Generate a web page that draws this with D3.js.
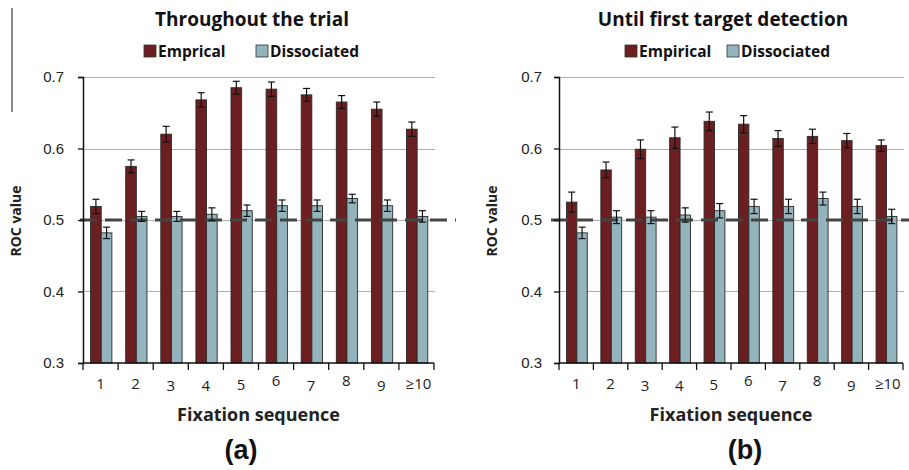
<!DOCTYPE html>
<html>
<head>
<meta charset="utf-8">
<style>
  body { margin: 0; background: #fff; }
  svg { display: block; font-family: "Open Sans", "Lato", sans-serif; }
  .grid line { stroke: #b0b0b0; stroke-width: 1; }
  .ylab text { font-size: 15px; fill: #222; }
  .xlab text { font-size: 15px; fill: #222; }
</style>
</head>
<body>
<svg width="909" height="470"></svg>
<script src="https://d3js.org/d3.v7.min.js"></script>
<script>
// categories on the x axis
let categories = ["1", "2", "3", "4", "5", "6", "7", "8", "9", "\u226510"]
let yTicks = [0.3, 0.4, 0.5, 0.6, 0.7]

// (a) throughout the trial
let empA = [0.519, 0.575, 0.620, 0.668, 0.685, 0.683, 0.675, 0.665, 0.655, 0.627]
let empAErr = [0.010, 0.009, 0.011, 0.010, 0.009, 0.010, 0.009, 0.009, 0.010, 0.010]
let dissA = [0.482, 0.505, 0.505, 0.508, 0.513, 0.520, 0.520, 0.530, 0.520, 0.505]
let dissAErr = [0.008, 0.007, 0.007, 0.009, 0.008, 0.008, 0.008, 0.006, 0.008, 0.008]

// (b) until first target detection
let empB = [0.525, 0.570, 0.599, 0.615, 0.638, 0.634, 0.614, 0.617, 0.611, 0.604]
let empBErr = [0.014, 0.011, 0.013, 0.015, 0.013, 0.012, 0.011, 0.010, 0.010, 0.008]
let dissB = [0.482, 0.504, 0.504, 0.507, 0.513, 0.519, 0.519, 0.530, 0.519, 0.505]
let dissBErr = [0.008, 0.009, 0.009, 0.010, 0.010, 0.010, 0.010, 0.009, 0.010, 0.010]

let colEmp = "#6b1f20"
let colDiss = "#93b4bc"

let svg = d3.select("svg")

// stray frame line at the far left
svg.append("line").attr("x1", 12).attr("x2", 12).attr("y1", 8).attr("y2", 112)
    .attr("stroke", "#111").attr("stroke-width", 1)

function drawPanel(p) {
    let g = svg.append("g")

    let x = d3.scaleBand().domain(categories).range([p.left, p.right]).padding(0)
    let sub = d3.scaleBand().domain(["emp", "diss"]).range([0, x.bandwidth()])
        .paddingInner(0).paddingOuter(0.65).align(0.55)
    let y = d3.scaleLinear().domain([0.3, 0.7]).range([363, 77])

    // gridlines
    g.append("g").attr("class", "grid")
        .selectAll("line").data(yTicks.slice(1)).join("line")
        .attr("x1", p.left).attr("x2", p.right + 1)
        .attr("y1", d => Math.round(y(d)) + 0.5).attr("y2", d => Math.round(y(d)) + 0.5)

    let rows = categories.map((c, i) => ({
        c: c, emp: p.emp[i], empErr: p.empErr[i], diss: p.diss[i], dissErr: p.dissErr[i]
    }))

    let series = [
        {key: "emp", color: colEmp},
        {key: "diss", color: colDiss}
    ]

    series.forEach(s => {
        g.append("g").selectAll("rect").data(rows).join("rect")
            .attr("x", d => x(d.c) + sub(s.key))
            .attr("width", sub.bandwidth())
            .attr("y", d => y(d[s.key]))
            .attr("height", d => y(0.3) - y(d[s.key]))
            .attr("fill", s.color)
            .attr("stroke", "#2a2a2a")
            .attr("stroke-width", 0.9)
    })

    // reference line at chance level
    g.append("line")
        .attr("x1", p.dashFrom).attr("x2", p.dashTo)
        .attr("y1", y(0.5)).attr("y2", y(0.5))
        .attr("stroke", "#444").attr("stroke-width", 3)
        .attr("stroke-dasharray", "17,8")

    // error bars
    series.forEach(s => {
        let eb = g.append("g").selectAll("g").data(rows).join("g")
            .attr("transform", d => `translate(${x(d.c) + sub(s.key) + sub.bandwidth() / 2},0)`)
            .attr("stroke", "#111").attr("stroke-width", 1.2)
        eb.append("line")
            .attr("y1", d => y(d[s.key] - d[s.key + "Err"]))
            .attr("y2", d => y(d[s.key] + d[s.key + "Err"]))
        eb.append("line").attr("x1", -3.5).attr("x2", 3.5)
            .attr("y1", d => y(d[s.key] + d[s.key + "Err"]))
            .attr("y2", d => y(d[s.key] + d[s.key + "Err"]))
        eb.append("line").attr("x1", -3.5).attr("x2", 3.5)
            .attr("y1", d => y(d[s.key] - d[s.key + "Err"]))
            .attr("y2", d => y(d[s.key] - d[s.key + "Err"]))
    })

    // y axis
    let yAxis = g.append("g").attr("class", "ylab")
        .attr("transform", `translate(${p.left},0)`)
        .call(d3.axisLeft(y).tickValues(yTicks).tickSize(5).tickPadding(p.tickPad).tickFormat(d3.format(".1f")))
    yAxis.select(".domain").attr("stroke", "#111").attr("stroke-width", 1.5)
    yAxis.selectAll(".tick line").attr("stroke", "#111").attr("stroke-width", 1.3)

    // x axis: ticks at band edges
    let xg = g.append("g").attr("transform", `translate(0,${y(0.3)})`)
    xg.append("line").attr("x1", p.left).attr("x2", p.right)
        .attr("stroke", "#111").attr("stroke-width", 1.5)
    let edges = categories.map(c => x(c)).concat([p.right])
    xg.selectAll(".edge").data(edges).join("line")
        .attr("x1", d => d).attr("x2", d => d).attr("y1", 0).attr("y2", 7)
        .attr("stroke", "#111").attr("stroke-width", 1.3)
    let labelShift = [0, 0, 2, 2, 1, -3, 2, -3, 2, 0]
    xg.append("g").attr("class", "xlab").selectAll("text").data(categories).join("text")
        .attr("x", d => x(d) + x.bandwidth() / 2 + (d === "\u226510" ? 2 : 0))
        .attr("y", (d, i) => 26 + labelShift[i])
        .attr("text-anchor", "middle")
        .text(d => d)

    // titles
    let midX = (p.left + p.right) / 2
    g.append("text").attr("x", p.titleX).attr("y", 26)
        .attr("text-anchor", "middle").attr("font-size", 19).attr("font-weight", "bold")
        .attr("fill", "#111").text(p.title)
    g.append("text").attr("x", midX).attr("y", 421)
        .attr("text-anchor", "middle").attr("font-size", 18).attr("font-weight", "bold")
        .attr("fill", "#222").text("Fixation sequence")
    g.append("text")
        .attr("transform", `translate(${p.left - 62},221) rotate(-90)`)
        .attr("text-anchor", "middle").attr("font-size", 14).attr("font-weight", "bold")
        .attr("fill", "#222").text("ROC value")
    g.append("text").attr("x", p.panelX).attr("y", 459)
        .attr("text-anchor", "middle").attr("font-size", 27).attr("font-weight", "bold")
        .style("font-family", "'Liberation Sans', Arial, sans-serif")
        .attr("fill", "#111").text(p.panel)

    // legend
    let leg = g.append("g")
    p.legend.forEach((l, i) => {
        leg.append("rect").attr("x", l.x).attr("y", 45).attr("width", 12).attr("height", 12)
            .attr("fill", i === 0 ? colEmp : colDiss).attr("stroke", "#333").attr("stroke-width", 0.8)
        leg.append("text").attr("x", l.x + 14).attr("y", 57)
            .attr("font-size", 15.5).attr("font-weight", "bold").attr("fill", "#111").text(l.name)
    })
}

drawPanel({
    left: 83, right: 434, dashFrom: 80, dashTo: 456, tickPad: 14,
    emp: empA, empErr: empAErr, diss: dissA, dissErr: dissAErr,
    title: "Throughout the trial", titleX: 252, panel: "(a)", panelX: 241,
    legend: [{x: 144, name: "Emprical"}, {x: 256, name: "Dissociated"}]
})

drawPanel({
    left: 559, right: 903, dashFrom: 551, dashTo: 909, tickPad: 12,
    emp: empB, empErr: empBErr, diss: dissB, dissErr: dissBErr,
    title: "Until first target detection", titleX: 723, panel: "(b)", panelX: 745,
    legend: [{x: 625, name: "Empirical"}, {x: 727, name: "Dissociated"}]
})
</script>
</body>
</html>
